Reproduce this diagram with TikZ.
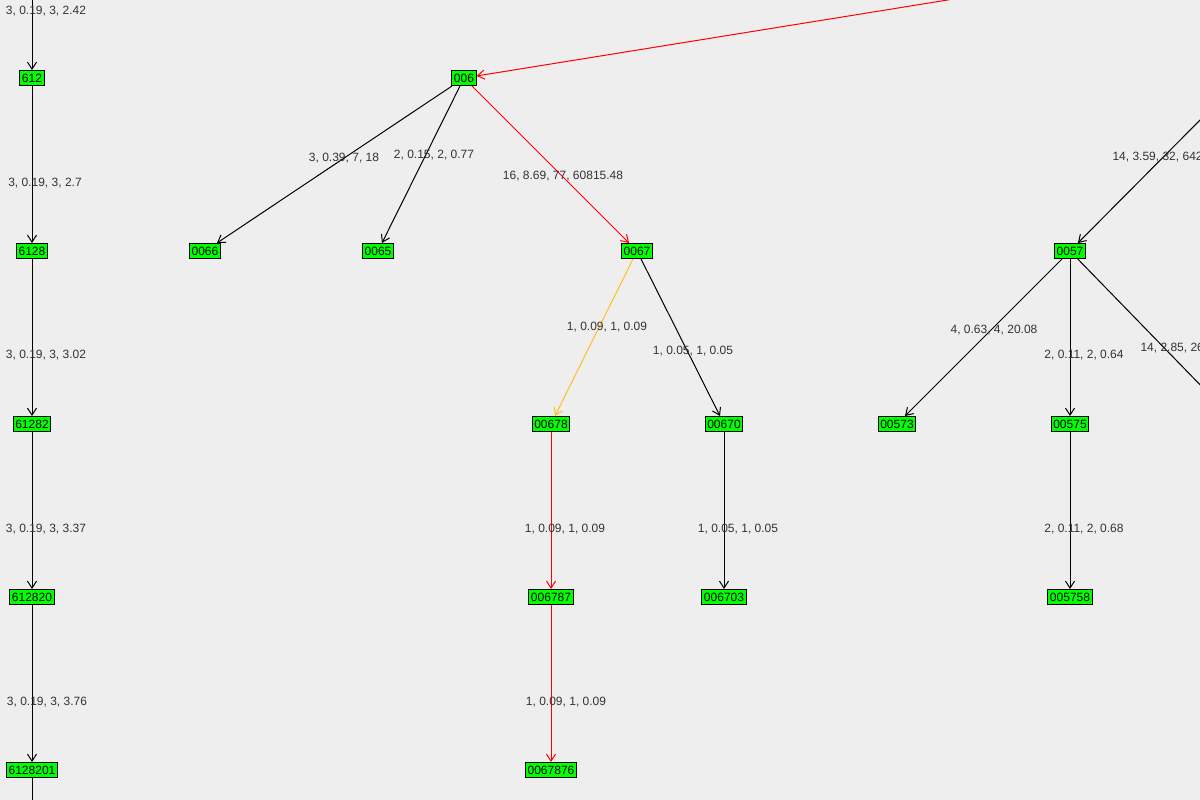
\documentclass[tikz,border=0pt]{standalone}
\usepackage{fontspec}
\setmainfont{Liberation Sans}
\usetikzlibrary{arrows.meta}
\definecolor{bgcol}{HTML}{EEEEEE}
\definecolor{boxgreen}{HTML}{00FF00}
\definecolor{pathorange}{HTML}{FFC020}
\tikzset{
  vertex/.style={draw=black, line width=1pt, fill=boxgreen, inner sep=2pt, minimum height=15pt, font=\fontsize{12}{13}\selectfont},
  edge/.style={-{Straight Barb[length=7pt,width=9pt]}, black, line width=1pt},
  elabel/.style={font=\fontsize{12}{13}\selectfont, text=black!80}
}
\begin{document}
\begin{tikzpicture}[x=1pt,y=-1pt]
\fill[bgcol] (0,0) rectangle (1200,800);
\useasboundingbox (0,0) rectangle (1200,800);
\clip (0,0) rectangle (1200,800);

% Nodes
\node[vertex] (612) at (32,78) {612};
\node[vertex] (6128) at (32,251) {6128};
\node[vertex] (61282) at (32,424) {61282};
\node[vertex] (612820) at (32,597) {612820};
\node[vertex] (6128201) at (32,770) {6128201};
\node[vertex] (006) at (464,78) {006};
\node[vertex] (0066) at (205,251) {0066};
\node[vertex] (0065) at (378,251) {0065};
\node[vertex] (0067) at (637,251) {0067};
\node[vertex] (00678) at (551,424) {00678};
\node[vertex] (00670) at (724,424) {00670};
\node[vertex] (006787) at (551,597) {006787};
\node[vertex] (006703) at (724,597) {006703};
\node[vertex] (0067876) at (551,770) {0067876};
\node[vertex] (0057) at (1070,251) {0057};
\node[vertex] (00573) at (897,424) {00573};
\node[vertex] (00575) at (1070,424) {00575};
\node[vertex] (005758) at (1070,597) {005758};

% Free ends
\coordinate (top612) at (32,-5);
\coordinate (bot612) at (32,805);
\coordinate (top006) at (960,-2);
\coordinate (top0057) at (1210,110);
\coordinate (right0057) at (1210,395);

% Edges
\draw[edge] (top612) -- (612);
\draw[edge] (612) -- (6128);
\draw[edge] (6128) -- (61282);
\draw[edge] (61282) -- (612820);
\draw[edge] (612820) -- (6128201);
\draw[black, line width=1pt] (6128201) -- (bot612);
\draw[edge, red] (top006) -- (006);
\draw[edge] (006) -- (0066);
\draw[edge] (006) -- (0065);
\draw[edge, red] (006) -- (0067);
\draw[edge, pathorange] (0067) -- (00678);
\draw[edge] (0067) -- (00670);
\draw[edge, red] (00678) -- (006787);
\draw[edge, red] (006787) -- (0067876);
\draw[edge] (00670) -- (006703);
\draw[edge] (top0057) -- (0057);
\draw[edge] (0057) -- (00573);
\draw[edge] (0057) -- (00575);
\draw[black, line width=1pt] (0057) -- (right0057);
\draw[edge] (00575) -- (005758);

% Labels
\node[elabel] at (46,11) {3, 0.19, 3, 2.42};
\node[elabel] at (45,183) {3, 0.19, 3, 2.7};
\node[elabel] at (46,355) {3, 0.19, 3, 3.02};
\node[elabel] at (46,529) {3, 0.19, 3, 3.37};
\node[elabel] at (47,702) {3, 0.19, 3, 3.76};
\node[elabel] at (344,158) {3, 0.39, 7, 18};
\node[elabel] at (434,155) {2, 0.15, 2, 0.77};
\node[elabel] at (563,176) {16, 8.69, 77, 60815.48};
\node[elabel] at (607,327) {1, 0.09, 1, 0.09};
\node[elabel] at (693,351) {1, 0.05, 1, 0.05};
\node[elabel] at (565,529) {1, 0.09, 1, 0.09};
\node[elabel] at (566,702) {1, 0.09, 1, 0.09};
\node[elabel] at (738,529) {1, 0.05, 1, 0.05};
\node[elabel] at (994,330) {4, 0.63, 4, 20.08};
\node[elabel] at (1084,355) {2, 0.11, 2, 0.64};
\node[elabel] at (1084,529) {2, 0.11, 2, 0.68};
\node[elabel, anchor=west] at (1109,157) {14, 3.59, 32, 642};
\node[elabel, anchor=west] at (1137,348) {14, 2.85, 26, 528};
\end{tikzpicture}
\end{document}
